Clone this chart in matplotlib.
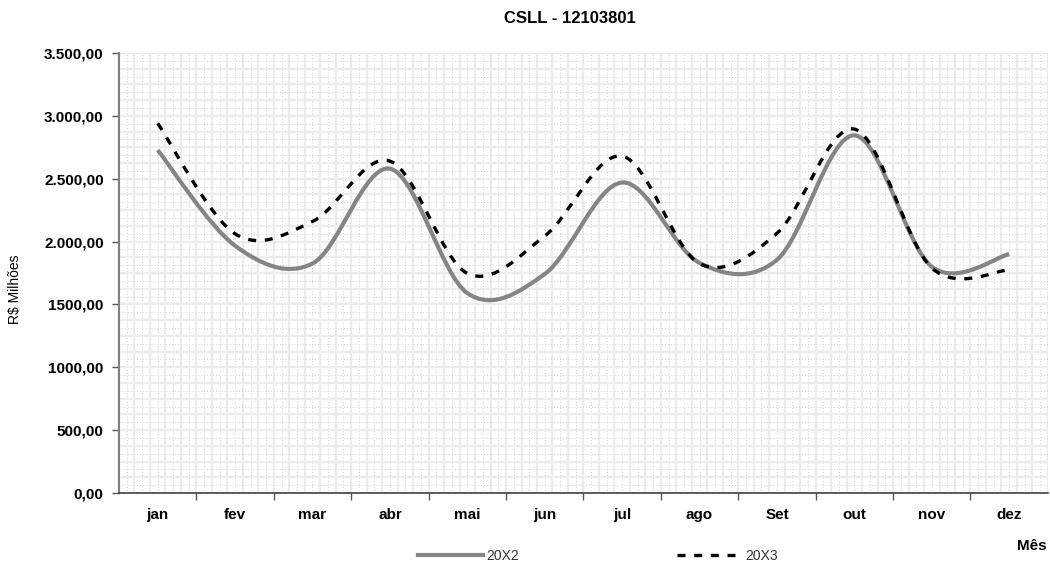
import numpy as np
import matplotlib.pyplot as plt
from matplotlib.path import Path
from matplotlib.patches import PathPatch
from matplotlib.lines import Line2D

plt.rcParams['font.family'] = ['Liberation Sans', 'DejaVu Sans']

meses = ['jan', 'fev', 'mar', 'abr', 'mai', 'jun', 'jul', 'ago', 'Set', 'out', 'nov', 'dez']
serie_20x2 = [2728, 1967, 1825, 2580, 1590, 1742, 2470, 1830, 1855, 2845, 1800, 1900]
serie_20x3 = [2941, 2062, 2160, 2640, 1747, 2044, 2680, 1825, 2066, 2895, 1790, 1775]
yticks = [0, 500, 1000, 1500, 2000, 2500, 3000, 3500]
ylabels = ['0,00', '500,00', '1000,00', '1500,00', '2.000,00', '2.500,00', '3.000,00', '3.500,00']


def smooth_path(y):
    # excel-like smoothed line: bezier segments through each point
    pts = np.column_stack([np.arange(len(y)), y]).astype(float)
    p = np.vstack([pts[0], pts, pts[-1]])
    verts = [pts[0]]
    codes = [Path.MOVETO]
    for i in range(len(pts) - 1):
        p0, p1, p2, p3 = p[i], p[i + 1], p[i + 2], p[i + 3]
        verts += [p1 + (p2 - p0) / 6, p2 - (p3 - p1) / 6, p2]
        codes += [Path.CURVE4] * 3
    return Path(verts, codes)


fig = plt.figure(figsize=(10.5, 5.64), dpi=100)
ax = fig.add_axes([0.1133, 0.1259, 0.998 - 0.1133, 0.906 - 0.1259])

ax.set_xlim(-0.5, 11.5)
ax.set_ylim(0, 3500)

# background grid
for k, xv in enumerate(np.arange(-0.5, 11.51, 0.1)):
    if k % 2 == 0:
        ax.axvline(xv, color='#ececec', lw=1.6, zorder=0)
    else:
        ax.axvline(xv, color='#d2d2d2', lw=0.7, ls=(0, (1, 2)), zorder=0)
for k, yv in enumerate(np.arange(0, 3501, 62.5)):
    if k % 2 == 0:
        ax.axhline(yv, color='#ececec', lw=1.6, zorder=0)
    else:
        ax.axhline(yv, color='#d2d2d2', lw=0.7, ls=(0, (1, 2)), zorder=0)

ax.add_patch(PathPatch(smooth_path(serie_20x2), fill=False, edgecolor='#858585',
                       lw=3.0, zorder=3, capstyle='butt'))
ax.add_patch(PathPatch(smooth_path(serie_20x3), fill=False, edgecolor='black',
                       lw=2.4, ls=(0, (2.4, 2.6)), zorder=4, capstyle='butt'))

ax.set_yticks(yticks)
ax.set_yticklabels(ylabels, fontsize=11, fontweight='bold')
ax.tick_params(axis='y', length=5, width=1, color='#555555', pad=6)

ax.set_xticks(np.arange(0.5, 11, 1))
ax.set_xticklabels([])
ax.set_xticks(np.arange(12), minor=True)
ax.set_xticklabels(meses, minor=True, fontsize=11, fontweight='bold')
ax.tick_params(axis='x', which='major', length=5, width=1, color='#555555')
ax.tick_params(axis='x', which='minor', length=0, pad=11)

for s in ['top', 'right']:
    ax.spines[s].set_visible(False)
ax.spines['left'].set_color('#808080')
ax.spines['left'].set_linewidth(1.5)
ax.spines['bottom'].set_color('#404040')
ax.spines['bottom'].set_linewidth(1.2)

fig.text(0.543, 0.968, 'CSLL - 12103801', fontsize=12, fontweight='bold',
         ha='center', va='center')
fig.text(15 / 1050, 1 - 289 / 564, 'R$ Milhões', rotation=90, fontsize=10,
         ha='center', va='center')
fig.text(1032 / 1050, 1 - 546 / 564, 'Mês', fontsize=11, fontweight='bold',
         ha='center', va='center')

handles = [Line2D([], [], color='#858585', lw=3.0),
           Line2D([], [], color='black', lw=2.4, ls=(0, (2.4, 2.6)))]
fig.legend(handles, ['20X2', '20X3'], loc='center left', bbox_to_anchor=(0.398, 0.014),
           ncol=2, frameon=False, fontsize=10, handlelength=4.7, handletextpad=0.2,
           columnspacing=11.4, borderpad=0, borderaxespad=0, labelcolor='#333333')

fig.savefig('out.png', dpi=100)
